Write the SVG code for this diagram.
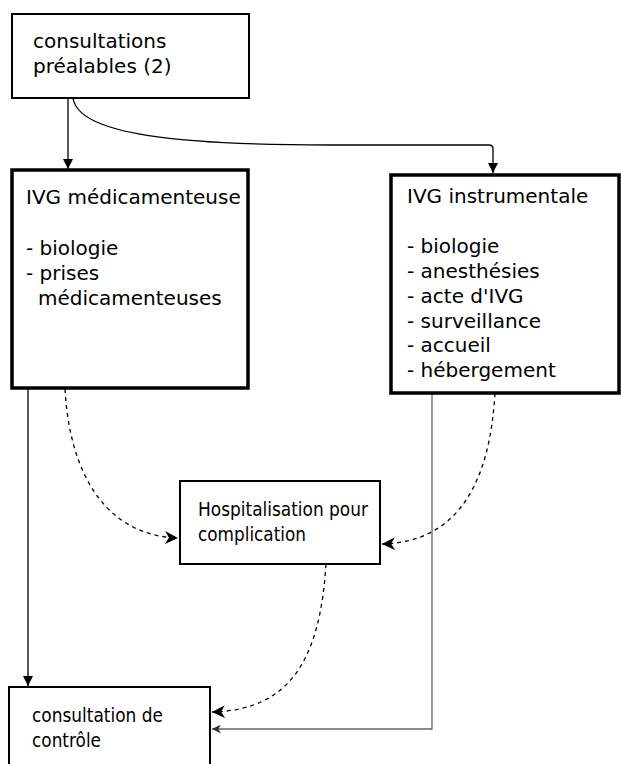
<svg xmlns="http://www.w3.org/2000/svg" width="621" height="764" viewBox="0 0 621 764">
<style>
.box{fill:#fff;stroke:#000;stroke-width:2}
.thick{stroke-width:3.5}
text{font-family:"DejaVu Sans","Liberation Sans",sans-serif;font-size:20px;fill:#000}
.c{fill:none;stroke:#000;stroke-width:1.3}
.d{stroke-dasharray:4,4}
.g{stroke:#666}
</style>
<defs>
<marker id="ah" viewBox="0 0 10 10" refX="10" refY="5" markerWidth="11" markerHeight="10" markerUnits="userSpaceOnUse" orient="auto">
<path d="M0,0 L10,5 L0,10 Z" fill="#000"/>
</marker>
<marker id="ahd" viewBox="0 0 10 10" refX="10" refY="5" markerWidth="14" markerHeight="13" markerUnits="userSpaceOnUse" orient="auto">
<path d="M0,0 L10,5 L0,10 L3,5 Z" fill="#000"/>
</marker>
<marker id="ahg" viewBox="0 0 10 10" refX="10" refY="5" markerWidth="10" markerHeight="9" markerUnits="userSpaceOnUse" orient="auto">
<path d="M0,0 L10,5 L0,10 L3,5 Z" fill="#333"/>
</marker>
</defs>
<g id="connectors">
<path class="c" d="M68,98 L68,169" marker-end="url(#ah)"/>
<path class="c" d="M73,98 C78,135 180,145 330,145 L489,145 Q493,145 493,149 L493,173" marker-end="url(#ah)"/>
<path class="c" d="M28,389 L28,686" marker-end="url(#ah)"/>
<path class="c d" d="M65,389 C70,480 110,536 178,538" marker-end="url(#ahd)"/>
<path class="c d" d="M495,393 C490,480 460,542 382,544" marker-end="url(#ahd)"/>
<path class="c d" d="M326,564 C320,660 290,710 212,712" marker-end="url(#ahd)"/>
<path class="c g" d="M432,393 L432,729 L212,729" marker-end="url(#ahg)"/>
</g>
<g id="consultations-prealables">
<rect class="box" x="12" y="14" width="237" height="84"/>
<text x="33" y="48">consultations</text>
<text x="33" y="73">préalables (2)</text>
</g>
<g id="ivg-medicamenteuse">
<rect class="box thick" x="12" y="170" width="236" height="218"/>
<text x="26" y="204">IVG médicamenteuse</text>
<text x="26" y="255">- biologie</text>
<text x="26" y="280">- prises</text>
<text x="38" y="305">médicamenteuses</text>
</g>
<g id="ivg-instrumentale">
<rect class="box thick" x="391" y="175" width="228" height="218"/>
<text x="407" y="203">IVG instrumentale</text>
<text x="407" y="253">- biologie</text>
<text x="407" y="278">- anesthésies</text>
<text x="407" y="303">- acte d'IVG</text>
<text x="407" y="328">- surveillance</text>
<text x="407" y="352">- accueil</text>
<text x="407" y="377">- hébergement</text>
</g>
<g id="hospitalisation">
<rect class="box" x="180" y="481" width="200" height="83"/>
<text x="198" y="516" textLength="170" lengthAdjust="spacingAndGlyphs">Hospitalisation pour</text>
<text x="198" y="541" textLength="108" lengthAdjust="spacingAndGlyphs">complication</text>
</g>
<g id="consultation-controle">
<rect class="box" x="9" y="687" width="201" height="90"/>
<text x="32" y="722" textLength="131" lengthAdjust="spacingAndGlyphs">consultation de</text>
<text x="32" y="747" textLength="69" lengthAdjust="spacingAndGlyphs">contrôle</text>
</g>
</svg>
